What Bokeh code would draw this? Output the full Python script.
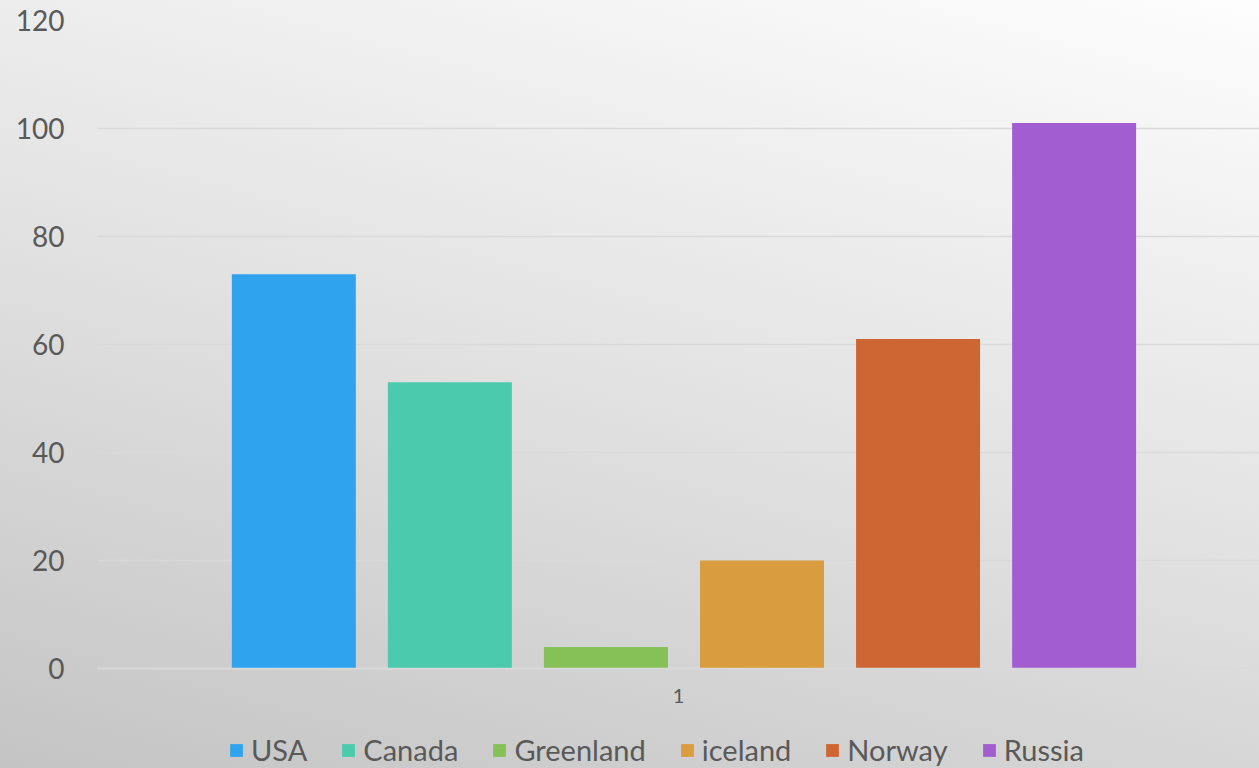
from bokeh.plotting import figure
from bokeh.models import (FactorRange, Range1d, Legend, LegendItem, ColumnDataSource,
                          FixedTicker)
from bokeh.transform import dodge
from bokeh.embed import file_html
from bokeh.resources import INLINE

# ---- data ----
category = ["1"]
series = ["USA", "Canada", "Greenland", "iceland", "Norway", "Russia"]
values = [73, 53, 4, 20, 61, 101]
colors = ["#2fa3ee", "#4bcaad", "#86c157", "#d99c3f", "#ce6633", "#a25ed1"]
y_ticks = [0, 20, 40, 60, 80, 100, 120]

FONT = "Lato"
TXT = "#595959"

# plot frame runs to the bottom edge; the lower part holds axis label + legend
y_bottom_pad = -100 / 5.4

p = figure(width=1259, height=768, x_range=FactorRange(*category, range_padding=0),
           y_range=Range1d(y_bottom_pad, 120), output_backend="svg", toolbar_location=None,
           min_border_left=97, min_border_right=0, min_border_top=20, min_border_bottom=0)
p.background_fill_color = None
p.border_fill_color = None
p.outline_line_color = None
p.styles = {"background": "linear-gradient(15deg, #c4c4c4 0%, #e2e2e2 50%, #fdfdfd 100%)"}

bar_w = 0.1067
pitch = 0.1343
shift = 0.0047
items = []
for i, (s, v, c) in enumerate(zip(series, values, colors)):
    src = ColumnDataSource(dict(cat=category, v=[v]))
    r = p.vbar(x=dodge("cat", (i - 2.5) * pitch + shift, range=p.x_range), top="v",
               width=bar_w, source=src, fill_color=c, line_color=None)
    items.append(LegendItem(label=s, renderers=[r]))

# grid
p.xgrid.grid_line_color = None
p.ygrid.ticker = FixedTicker(ticks=y_ticks)
p.ygrid.grid_line_color = "#d9d9d9"
p.ygrid.grid_line_width = 1.5

# y axis
p.yaxis.ticker = FixedTicker(ticks=y_ticks)
p.yaxis.axis_line_color = None
p.yaxis.major_tick_line_color = None
p.yaxis.minor_tick_line_color = None
p.yaxis.major_label_text_font = FONT
p.yaxis.major_label_text_font_size = "28px"
p.yaxis.major_label_text_color = TXT
p.yaxis.major_label_standoff = 27

# x axis (drawn at y = 0)
p.xaxis.fixed_location = 0
p.xaxis.axis_line_color = "#d9d9d9"
p.xaxis.axis_line_width = 1.5
p.xaxis.major_tick_line_color = None
p.xaxis.minor_tick_line_color = None
p.xaxis.major_label_text_font = FONT
p.xaxis.major_label_text_font_size = "20px"
p.xaxis.major_label_text_color = TXT
p.xaxis.major_label_standoff = 14

legend = Legend(items=items, orientation="horizontal", location=(131, 1),
                label_text_font=FONT, label_text_font_size="29px", label_text_color=TXT,
                glyph_width=16, glyph_height=16, label_standoff=7, spacing=33,
                padding=0, margin=0, background_fill_alpha=0, border_line_color=None)
p.add_layout(legend, "center")

open("out.html", "w").write(file_html(p, INLINE))
